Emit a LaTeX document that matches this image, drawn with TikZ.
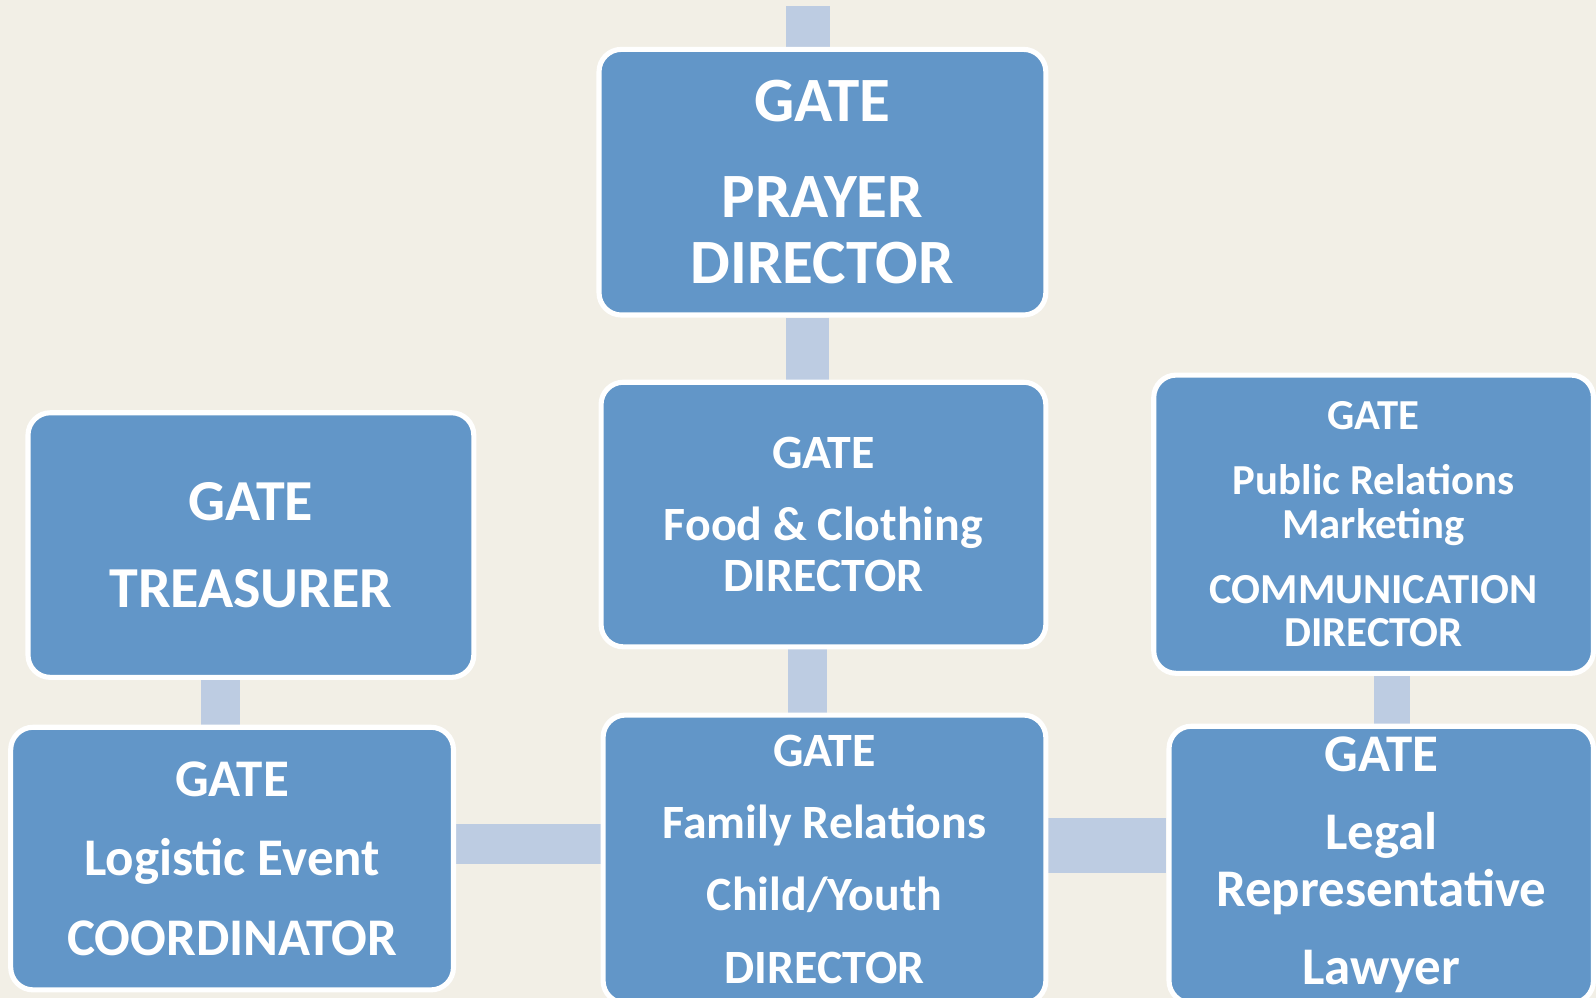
\documentclass[tikz,border=0pt]{standalone}
\usepackage{fontspec}
\setmainfont{Carlito}
\usetikzlibrary{backgrounds}

\definecolor{gatebg}{RGB}{242,239,230}
\definecolor{gatebox}{RGB}{98,150,200}
\definecolor{gatelink}{RGB}{189,204,226}

\newcommand\gatefont[2]{\bfseries\fontsize{#1}{#2}\selectfont}

\tikzset{
  gbox/.style={draw=white, line width=5pt, fill=gatebox, rounded corners=22pt,
    text=white, align=center, inner sep=0pt},
  glink/.style={draw=gatelink, line width=40pt}
}

\begin{document}
\begin{tikzpicture}[x=1pt, y=-1pt]
\useasboundingbox (0,0) rectangle (1568,980);

% boxes
\node[gbox, minimum width=439pt, minimum height=261pt, font=\gatefont{62}{65}] (prayer) at (808,179)
  {GATE\\[29pt]PRAYER\\DIRECTOR};
\node[gbox, minimum width=437pt, minimum height=260pt, font=\gatefont{47}{50}] (food) at (809,505.5)
  {GATE\\[20pt]Food \& Clothing\\DIRECTOR};
\node[gbox, minimum width=435pt, minimum height=283pt, font=\gatefont{47}{71}] (family) at (810,844)
  {GATE\\Family Relations\\Child/Youth\\DIRECTOR};
\node[gbox, minimum width=438pt, minimum height=260pt, font=\gatefont{57}{86}] (treasurer) at (246.5,535.5)
  {GATE\\TREASURER};
\node[gbox, minimum width=435pt, minimum height=258pt, font=\gatefont{52}{78}] (logistic) at (228,843.5)
  {GATE\\Logistic Event\\COORDINATOR};
\node[gbox, minimum width=432pt, minimum height=293pt, font=\gatefont{42}{43}] (comm) at (1349.5,515)
  {GATE\\[21pt]Public Relations\\Marketing\\[21pt]COMMUNICATION\\DIRECTOR};
\node[gbox, minimum width=417pt, minimum height=272pt, font=\gatefont{52}{56}] (legal) at (1357,849.5)
  {GATE\\[21pt]Legal\\Representative\\[21pt]Lawyer};

% links
\coordinate (top) at (793.5,6);
\coordinate (spine) at (793,0);
\coordinate (lspine) at (216.5,0);
\coordinate (rspine) at (1367.5,0);
\coordinate (lbar) at (0,829.5);
\coordinate (rbar) at (0,831);

\begin{scope}[on background layer]
\fill[gatebg] (0,0) rectangle (1568,980);
\draw[glink, line width=43pt] (top) -- (top |- prayer.north);
\draw[glink, line width=42pt] (prayer.south -| spine) -- (food.north -| spine);
\draw[glink, line width=38pt] (food.south -| spine) -- (family.north -| spine);
\draw[glink, line width=39pt] (treasurer.south -| lspine) -- (logistic.north -| lspine);
\draw[glink, line width=35pt] (comm.south -| rspine) -- (legal.north -| rspine);
\draw[glink, line width=39pt] (logistic.east |- lbar) -- (family.west |- lbar);
\draw[glink, line width=54pt] (family.east |- rbar) -- (legal.west |- rbar);
\end{scope}

\end{tikzpicture}
\end{document}
